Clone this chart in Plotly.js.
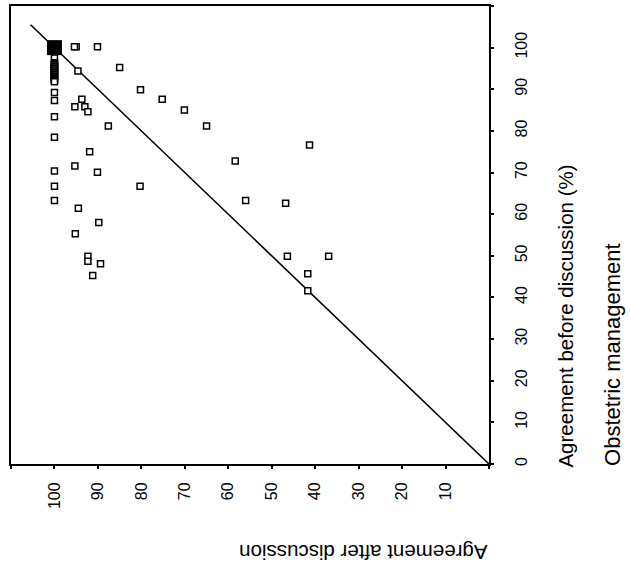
<!DOCTYPE html>
<html>
<head>
<meta charset="utf-8">
<script src="https://cdn.plot.ly/plotly-3.0.1.min.js"></script>
<style>html,body{margin:0;padding:0;background:#fff;}#chart{width:630px;height:568px;}</style>
</head>
<body>
<div id="chart"></div>
<script>
// Agreement after discussion (%) and before discussion (%) for each item
const afterDiscussion = [95, 95.4, 90.1, 100, 100, 100, 100, 100, 100, 100, 100, 100, 100, 100, 100, 100, 100, 100, 100, 100, 100, 100, 100, 94.6, 85, 100, 100, 80.2, 75.2, 93.7, 95.3, 93.0, 92.3, 70.1, 100, 87.6, 65, 100, 91.9, 58.4, 95.3, 100, 90.1, 100, 80.3, 100, 56, 94.5, 89.8, 95.2, 41.3, 46.8, 92.3, 92.3, 89.4, 91.2, 46.4, 36.9, 41.7, 41.7];
const beforeDiscussion = [100.2, 100.2, 100.2, 97.5, 96.4, 96.1, 95.9, 95.6, 95.4, 95.1, 94.9, 94.6, 94.4, 94.1, 93.9, 93.6, 93.4, 93.1, 92.9, 92.6, 92.4, 92.1, 91.8, 94.4, 95.2, 89.2, 87.3, 89.9, 87.6, 87.6, 85.8, 85.8, 84.6, 85.0, 83.4, 81.2, 81.2, 78.5, 75.0, 72.8, 71.6, 70.4, 70.1, 66.7, 66.7, 63.3, 63.3, 61.4, 58.0, 55.3, 76.6, 62.6, 49.9, 48.7, 48.1, 45.3, 49.9, 49.9, 45.7, 41.6];
// Highlighted point (full agreement)
const fullAfter = [100];
const fullBefore = [100];
// Line of equality
const equalityLine = [0, 105.5];
// Tick labels
const afterTicks = [0, 10, 20, 30, 40, 50, 60, 70, 80, 90, 100, 110];
const afterTickText = ['', '10', '20', '30', '40', '50', '60', '70', '80', '90', '100', ''];
const beforeTicks = [0, 10, 20, 30, 40, 50, 60, 70, 80, 90, 100, 110];
const beforeTickText = ['0', '10', '20', '30', '40', '50', '60', '70', '80', '90', '100', ''];

const FONT = 'Arial, "Liberation Sans", sans-serif';

const traces = [
  {
    x: equalityLine, y: equalityLine, mode: 'lines', type: 'scatter',
    line: {color: '#000', width: 1.6}, hoverinfo: 'skip', showlegend: false
  },
  {
    x: afterDiscussion, y: beforeDiscussion, mode: 'markers', type: 'scatter',
    marker: {symbol: 'square', size: 6, color: '#fff', line: {color: '#000', width: 1.5}},
    showlegend: false
  },
  {
    x: fullAfter, y: fullBefore, mode: 'markers', type: 'scatter',
    marker: {symbol: 'square', size: 15, color: '#000', line: {color: '#000', width: 0}},
    showlegend: false
  }
];

const layout = {
  width: 630, height: 568,
  margin: {l: 11, r: 141, t: 6, b: 104},
  paper_bgcolor: '#fff', plot_bgcolor: '#fff',
  font: {family: FONT, color: '#000', size: 16},
  showlegend: false,
  xaxis: {
    range: [110, 0], showgrid: false, zeroline: false,
    showline: true, linecolor: '#000', linewidth: 2, mirror: true,
    ticks: 'outside', ticklen: 3, tickwidth: 2, tickcolor: '#000',
    tickmode: 'array', tickvals: afterTicks, ticktext: afterTickText,
    tickangle: -90, ticklabelstandoff: 7,
    tickfont: {family: FONT, size: 16, color: '#000'}
  },
  yaxis: {
    range: [0, 110], side: 'right', showgrid: false, zeroline: false,
    showline: true, linecolor: '#000', linewidth: 2, mirror: true,
    ticks: 'outside', ticklen: 3, tickwidth: 2, tickcolor: '#000',
    tickmode: 'array', tickvals: beforeTicks, ticktext: beforeTickText,
    tickangle: -90, ticklabelstandoff: 14,
    tickfont: {family: FONT, size: 16, color: '#000'}
  },
  annotations: [
    {text: 'Agreement before discussion (%)', xref: 'paper', yref: 'paper',
     x: 1.161, y: 0.324, xanchor: 'center', yanchor: 'middle', textangle: -90,
     showarrow: false, font: {family: FONT, size: 20.5, color: '#000'}},
    {text: 'Obstetric management', xref: 'paper', yref: 'paper',
     x: 1.257, y: 0.240, xanchor: 'center', yanchor: 'middle', textangle: -90,
     showarrow: false, font: {family: FONT, size: 22, color: '#000'}},
    {text: 'Agreement after discussion', xref: 'paper', yref: 'paper',
     x: 0.738, y: -0.192, xanchor: 'center', yanchor: 'middle', textangle: 180,
     showarrow: false, font: {family: FONT, size: 20.5, color: '#000'}}
  ]
};

Plotly.newPlot('chart', traces, layout, {displayModeBar: false, staticPlot: true});
</script>
</body>
</html>
